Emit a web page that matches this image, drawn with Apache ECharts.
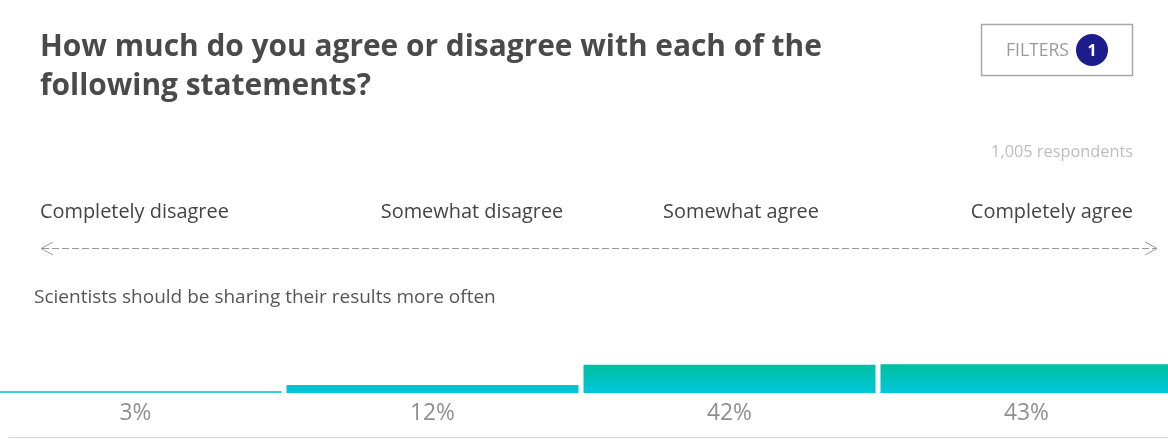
<!DOCTYPE html>
<html><head><meta charset="utf-8">
<script src="https://cdn.jsdelivr.net/npm/echarts@6/dist/echarts.min.js"></script>
<style>html,body{margin:0;padding:0;background:#fff;overflow:hidden;width:1168px;height:439px;position:relative}
#c{position:absolute;left:-13px;top:0;width:1188px;height:439px}</style>
</head><body><div id="c"></div>
<script>
const titleLines = ["How much do you agree or disagree with each of the", "following statements?"];
const categories = ["Completely disagree", "Somewhat disagree", "Somewhat agree", "Completely agree"];
const values = [3, 12, 42, 43];
const statement = "Scientists should be sharing their results more often";
const respondents = "1,005 respondents";

const OX = 13; // container offset
const ctx = document.createElement('canvas').getContext('2d');
function fit(text, family, weight, target) {
  ctx.font = weight + ' 100px ' + family;
  return 100 * target / ctx.measureText(text).width;
}
const F = '"Open Sans"';
const titleSize = fit(titleLines[0], F, 'bold', 782);
const lblSizes = [190, 181, 155, 164].map((w, i) => fit(categories[i], F, 'normal', w));
const lblSize = lblSizes.reduce((a, b) => a + b) / 4;
const stSize = fit(statement, F, 'normal', 462);
const resSize = fit(respondents, F, 'normal', 142);
const filSize = fit('FILTERS', F, 'normal', 63);
const pctSize = fit('42%', F, 'normal', 45);

const chart = echarts.init(document.getElementById('c'));
const grad = new echarts.graphic.LinearGradient(0, 364, 0, 393, [
  {offset: 0, color: '#00BF9E'}, {offset: 1, color: '#00C6DB'}
], true);
chart.setOption({
  animation: false,
  grid: {left: 0, right: 0, top: 326, bottom: 46, containLabel: false},
  xAxis: {
    type: 'category', data: categories,
    axisLine: {show: false}, axisTick: {show: false},
    axisLabel: {
      formatter: (v, i) => values[i] + '%',
      margin: 9, fontFamily: F, fontSize: pctSize, color: '#8f8f8f'
    }
  },
  yAxis: {type: 'value', min: 0, max: 100, show: false, splitLine: {show: false}},
  series: [{
    type: 'bar', data: values.map((v, i) => ({
      value: v,
      itemStyle: {color: i === 0 ? '#3ACFE0' : grad}
    })),
    barCategoryGap: 5 / 297 * 100 + '%'
  }],
  graphic: [{
    type: 'group', x: OX, y: 0, children: [
      {type: 'text', x: 40, y: 47, style: {text: titleLines[0], fontFamily: F, fontSize: titleSize, fontWeight: 'bold', fill: '#4a4a4a', verticalAlign: 'middle'}},
      {type: 'text', x: 40, y: 86, style: {text: titleLines[1], fontFamily: F, fontSize: titleSize, fontWeight: 'bold', fill: '#4a4a4a', verticalAlign: 'middle'}},
      {type: 'rect', shape: {x: 981.5, y: 24.5, width: 151, height: 51}, style: {fill: '#fff', stroke: '#a8a8a8', lineWidth: 1.5}},
      {type: 'text', x: 1006, y: 51, style: {text: 'FILTERS', fontFamily: F, fontSize: filSize, fill: '#9a9a9a', verticalAlign: 'middle'}},
      {type: 'circle', shape: {cx: 1092, cy: 50, r: 16}, style: {fill: '#1c1c8c'}},
      {type: 'text', x: 1092, y: 51, style: {text: '1', fontFamily: F, fontSize: 16, fontWeight: 'bold', fill: '#fff', align: 'center', verticalAlign: 'middle'}},
      {type: 'text', x: 1133, y: 152, style: {text: respondents, fontFamily: F, fontSize: resSize, fill: '#bdbdbd', align: 'right', verticalAlign: 'middle'}},
      {type: 'text', x: 40, y: 212, style: {text: categories[0], fontFamily: F, fontSize: lblSize, fill: '#444', verticalAlign: 'middle'}},
      {type: 'text', x: 472, y: 212, style: {text: categories[1], fontFamily: F, fontSize: lblSize, fill: '#444', align: 'center', verticalAlign: 'middle'}},
      {type: 'text', x: 741, y: 212, style: {text: categories[2], fontFamily: F, fontSize: lblSize, fill: '#444', align: 'center', verticalAlign: 'middle'}},
      {type: 'text', x: 1133, y: 212, style: {text: categories[3], fontFamily: F, fontSize: lblSize, fill: '#444', align: 'right', verticalAlign: 'middle'}},
      {type: 'line', shape: {x1: 42, y1: 248.5, x2: 1156, y2: 248.5}, style: {stroke: '#9a9a9a', lineWidth: 1, lineDash: [7, 3]}},
      {type: 'polyline', shape: {points: [[53, 242], [41, 248.5], [53, 255]]}, style: {stroke: '#9a9a9a', lineWidth: 1, fill: null}},
      {type: 'polyline', shape: {points: [[1145, 242], [1157, 248.5], [1145, 255]]}, style: {stroke: '#9a9a9a', lineWidth: 1, fill: null}},
      {type: 'text', x: 34, y: 298, style: {text: statement, fontFamily: F, fontSize: stSize, fill: '#555', verticalAlign: 'middle'}},
      {type: 'line', shape: {x1: 9, y1: 437.5, x2: 1168, y2: 437.5}, style: {stroke: '#d6d6d6', lineWidth: 1}}
    ]
  }]
});
</script></body></html>
